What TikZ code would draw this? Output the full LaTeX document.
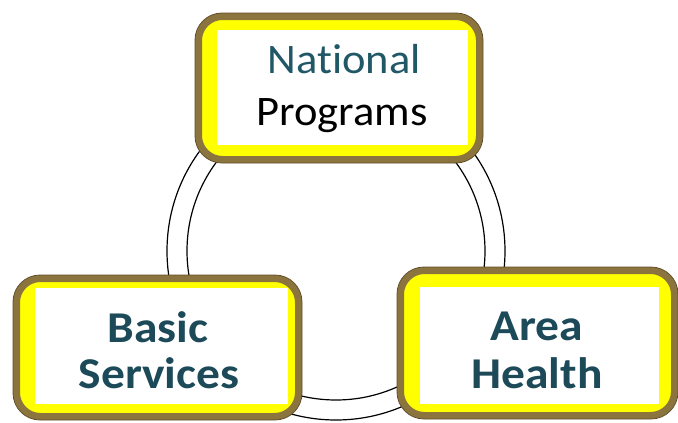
\documentclass[tikz,border=0pt]{standalone}
\usepackage{fontspec}
\setmainfont{Carlito}[Ligatures=NoCommon]
\definecolor{frame}{RGB}{140,116,62}
\definecolor{framedark}{RGB}{95,78,40}
\definecolor{fillyel}{RGB}{255,255,0}
\definecolor{tealtxt}{RGB}{33,88,104}
\definecolor{tealbold}{RGB}{28,74,88}
\newcommand{\wideR}[1]{\scalebox{1.06}[1]{#1}}
\newcommand{\wideB}[1]{\scalebox{1.08}[1]{#1}}
\tikzset{
  ring/.style={draw=black, line width=1.2pt},
  boxframe/.style={draw=frame, line width=7pt, fill=fillyel, rounded corners=24pt},
  boxedge/.style={draw=framedark, line width=0.8pt, rounded corners=27pt},
  whitebox/.style={fill=white, draw=none},
  lbl/.style={anchor=base, inner sep=0pt, font=\fontsize{42}{52}\selectfont},
  blbl/.style={anchor=base, inner sep=0pt, font=\fontsize{44}{52}\selectfont\bfseries, text=tealbold}
}
\begin{document}
\begin{tikzpicture}[x=1pt,y=-1pt]
\useasboundingbox (0,0) rectangle (678,423);
\coordinate (ctr) at (336,251);
\draw[ring] (ctr) circle[radius=169];
\draw[ring] (ctr) circle[radius=149];
% top box
\draw[boxframe] (198.5,16.5) rectangle (479.5,159.5);
\draw[boxedge] (195,13) rectangle (483,163);
\fill[whitebox] (217,30) rectangle (468,145);
\node[lbl, text=tealtxt] (np1) at (344,73) {\wideR{National}};
\node[lbl, text=black] (np2) at (342,125) {\wideR{Programs}};
% basic services
\draw[boxframe] (16.5,278.5) rectangle (298.5,416.5);
\draw[boxedge] (13,275) rectangle (302,420);
\fill[whitebox] (35,288) rectangle (288,404);
\node[blbl] (bs1) at (158,342) {\wideB{Basic}};
\node[blbl] (bs2) at (159,388) {\wideB{Services}};
% area health
\draw[boxframe] (400.5,270.5) rectangle (674.5,415.5);
\draw[boxedge] (397,267) rectangle (678,419);
\fill[whitebox] (420,287) rectangle (659,404);
\node[blbl] (ah1) at (537,340) {\wideB{Area}};
\node[blbl] (ah2) at (537,388) {\wideB{Health}};
\end{tikzpicture}
\end{document}
